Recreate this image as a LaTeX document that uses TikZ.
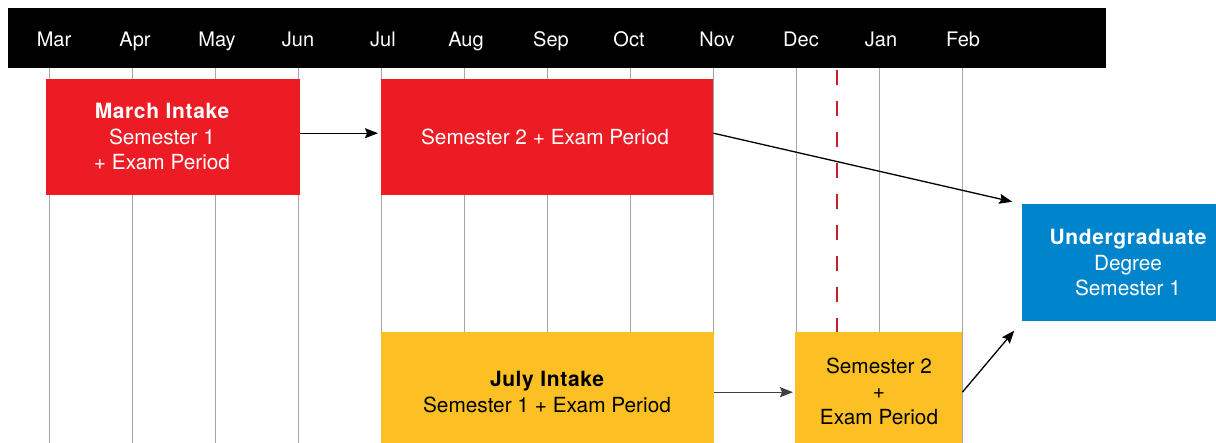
\documentclass[tikz,border=0pt]{standalone}
\usepackage{fontspec}
\setmainfont{TeX Gyre Heros}
\usetikzlibrary{arrows.meta}
\definecolor{cred}{RGB}{237,28,36}
\definecolor{cyel}{RGB}{253,192,36}
\definecolor{cblue}{RGB}{0,133,204}
\definecolor{cgrid}{RGB}{165,165,165}
\definecolor{cdash}{RGB}{200,30,45}
\newcommand{\bt}[1]{{\fontsize{21}{25.5}\selectfont\addfontfeature{LetterSpace=3}\bfseries #1}}
\tikzset{
  box/.style={inner sep=0pt, draw=none, anchor=north west},
  month/.style={text=white, anchor=base, font=\fontsize{20}{24}\selectfont, inner sep=0pt},
  boxtext/.style={align=center, inner sep=0pt, font=\fontsize{20.8}{25.5}\selectfont},
  grid/.style={draw=cgrid, line width=0.9pt},
  arr/.style={draw=black, line width=1.3pt, -{Stealth[length=13pt,width=10pt,inset=2pt]}},
}
\begin{document}
\begin{tikzpicture}[x=1pt,y=-1pt]
\useasboundingbox (0,0) rectangle (1216,443);
% grid lines
\foreach \x in {49,132,215,298,381,464,547,630,713,796,879,962}
  \draw[grid] (\x,68) -- (\x,445);
% dashed line
\draw[draw=cdash, line width=1.2pt, dash pattern=on 15pt off 16pt] (837,70) -- (837,332);
% header bar
\node[box, fill=black, minimum width=1098pt, minimum height=60pt] (bar) at (8,8) {};
\foreach \x/\m in {54/Mar,135/Apr,217/May,298/Jun,383/Jul,466/Aug,551/Sep,629/Oct,717/Nov,801/Dec,881/Jan,963/Feb}
  \node[month] (m\m) at (\x,47) {\m};
% boxes
\node[box, fill=cred, minimum width=254pt, minimum height=116pt] (r1) at (46,79) {};
\node[box, fill=cred, minimum width=332pt, minimum height=116pt] (r2) at (381,79) {};
\node[box, fill=cblue, minimum width=200pt, minimum height=117pt] (bl) at (1022,204) {};
\node[box, fill=cyel, minimum width=333pt, minimum height=116pt] (y1) at (381,332) {};
\node[box, fill=cyel, minimum width=167pt, minimum height=116pt] (y2) at (795,332) {};
% texts
\node[boxtext, text=white] (t1) at (162,137) {\bt{March Intake}\\Semester 1\\+ Exam Period};
\node[boxtext, text=white] (t2) at (545,137) {Semester 2 + Exam Period};
\node[boxtext, text=white] (t3) at (1128,263) {\bt{Undergraduate}\\Degree\\Semester 1};
\node[boxtext, text=black] (t4) at (547,392) {\bt{July Intake}\\Semester 1 + Exam Period};
\node[boxtext, text=black] (t5) at (879,391) {Semester 2\\+\\Exam Period};
% arrows
\draw[arr, shorten >=3pt] ([yshift=4pt]r1.east) -- ([yshift=4pt]r2.west);
\draw[arr, shorten >=10pt] ([yshift=4pt]r2.east) -- (bl.north west);
\draw[arr, draw=black!75, shorten >=2pt] ([yshift=-2pt]y1.east) -- ([yshift=-2pt]y2.west);
\draw[arr, shorten >=12pt] ([yshift=-2pt]y2.east) -- (bl.south west);
\end{tikzpicture}
\end{document}
